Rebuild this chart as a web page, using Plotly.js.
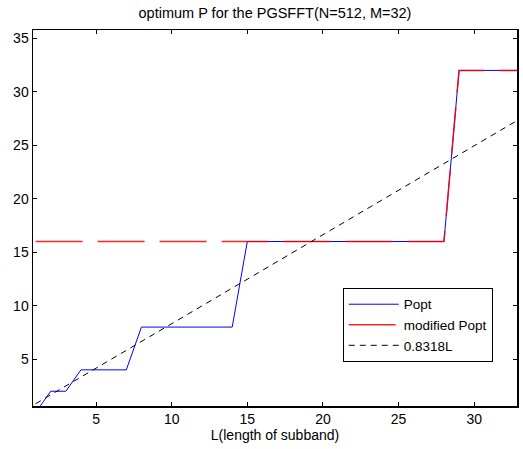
<!DOCTYPE html>
<html>
<head>
<meta charset="utf-8">
<script src="https://cdn.plot.ly/plotly-3.0.1.min.js"></script>
<style>html,body{margin:0;padding:0;background:#fff;}#chart{width:523px;height:449px;}</style>
</head>
<body>
<div id="chart"></div>
<script>
var L = [1,2,3,4,5,6,7,8,9,10,11,12,13,14,15,16,17,18,19,20,21,22,23,24,25,26,27,28,29,30,31,32,33];
var popt = [0,2,2,4,4,4,4,8,8,8,8,8,8,8,16,16,16,16,16,16,16,16,16,16,16,16,16,16,32,32,32,32,32];
var modifiedPopt = [16,16,16,16,16,16,16,16,16,16,16,16,16,16,16,16,16,16,16,16,16,16,16,16,16,16,16,16,32,32,32,32,32];
var fitL = [1, 33];
var fitValues = [0.8318, 27.4494];
var names = ['Popt', 'modified Popt', '0.8318L'];
var titleText = 'optimum P for the PGSFFT(N=512, M=32)';
var xTitle = 'L(length of subband)';
var xTicks = [5,10,15,20,25,30];
var yTicks = [5,10,15,20,25,30,35];

var font = 'Liberation Sans, Arial, sans-serif';
var traces = [
  {x: L, y: popt, name: names[0], mode: 'lines', line: {color: '#0000ff', width: 1}},
  {x: L, y: modifiedPopt, name: names[1], mode: 'lines', line: {color: '#ff0000', width: 1.5, dash: '47px,15px'}, opacity: 0.85},
  {x: fitL, y: fitValues, name: names[2], mode: 'lines', line: {color: '#000000', width: 1, dash: '6px,5px'}}
];
var axisCommon = {
  showline: true, linecolor: '#000', linewidth: 1.5, mirror: 'ticks',
  ticks: 'inside', ticklen: 4, tickcolor: '#000', tickwidth: 1,
  showgrid: false, zeroline: false,
  tickfont: {family: font, size: 14, color: '#000'}
};
var layout = {
  width: 523, height: 449,
  margin: {l: 33, r: 6, t: 30, b: 43},
  paper_bgcolor: '#fff', plot_bgcolor: '#fff',
  title: {text: titleText, font: {family: font, size: 14.5, color: '#000'}, x: 0.5, xref: 'paper', y: 1 - 13/449, yref: 'container', yanchor: 'middle'},
  xaxis: Object.assign({}, axisCommon, {range: [0.83, 32.83], tickvals: xTicks, ticktext: xTicks.map(String),
    title: {text: xTitle, font: {family: font, size: 14, color: '#000'}, standoff: 2}}),
  yaxis: Object.assign({}, axisCommon, {range: [0.62, 35.78], tickvals: yTicks, ticktext: yTicks.map(String)}),
  showlegend: true,
  legend: {x: 0.64, y: 0.314, xanchor: 'left', yanchor: 'top', bgcolor: '#fff', bordercolor: '#000', borderwidth: 1,
    font: {family: font, size: 13.5, color: '#000'}, tracegroupgap: 0, itemwidth: 50}
};
Plotly.newPlot('chart', traces, layout, {displayModeBar: false, staticPlot: true});
</script>
</body>
</html>
